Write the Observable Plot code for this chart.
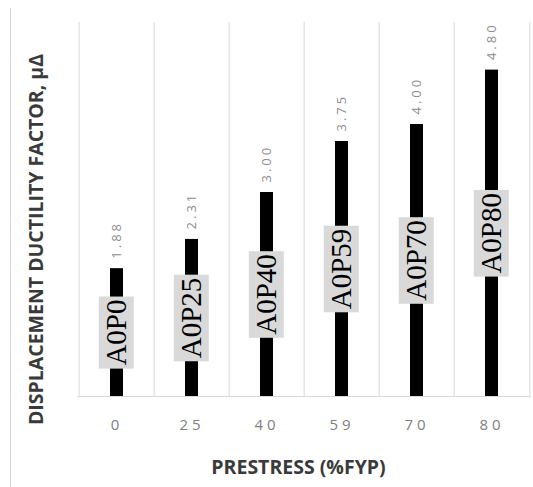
<!DOCTYPE html>
<html>
<head>
<meta charset="utf-8">
<script src="https://cdn.jsdelivr.net/npm/d3@7"></script>
<script src="https://cdn.jsdelivr.net/npm/@observablehq/plot@0.6"></script>
<style>
  body { margin: 0; background: #fff; }
  #chart { position: relative; width: 533px; height: 487px; }
  #chart::before { content: ""; position: absolute; left: 10px; top: 8px; bottom: 0; border-left: 1px solid #d9d9d9; }
  #chart svg { position: absolute; left: 0; top: 0; }
  #chart g[font-size="13"] text { letter-spacing: 3px; }
  #chart g[aria-label="x-axis tick label"] text { letter-spacing: 4px; }
</style>
</head>
<body>
<div id="chart"></div>
<script>
// Prestress levels (% of fpy) and the measured displacement ductility factor
const prestress = ["0", "25", "40", "59", "70", "80"];
const ductility = [1.88, 2.31, 3.00, 3.75, 4.00, 4.80];
const specimens = ["A0P0", "A0P25", "A0P40", "A0P59", "A0P70", "A0P80"];
const xTitle = "PRESTRESS (%FYP)";
const yTitle = "DISPLACEMENT DUCTILITY FACTOR, μΔ";
const yMax = 5.5;

const rows = prestress.map((p, i) => ({p, v: ductility[i], name: specimens[i]}));

const W = 533, H = 487, ML = 77, MR = 2;
const halfStep = (W - ML - MR) / prestress.length / 2; // half of one category band, in px

const chart = Plot.plot({
  width: W,
  height: H,
  marginLeft: ML,
  marginRight: MR,
  marginTop: 22,
  marginBottom: 91,
  style: {fontFamily: "'Open Sans', sans-serif", background: "transparent", overflow: "visible"},
  x: {domain: prestress, padding: 0},
  y: {domain: [0, yMax], axis: null},
  marks: [
    // vertical gridlines on the category boundaries
    Plot.ruleX(prestress, {x: d => d, y1: 0, y2: yMax, dx: -halfStep, stroke: "#d9d9d9"}),
    Plot.ruleX(prestress.slice(-1), {x: d => d, y1: 0, y2: yMax, dx: halfStep, stroke: "#d9d9d9"}),
    Plot.ruleY([0], {stroke: "#d9d9d9"}),
    Plot.barY(rows, {x: "p", y: "v", fill: "#000", insetLeft: 31, insetRight: 31}),
    Plot.text(rows, {
      x: "p", y: "v", text: d => d.v.toFixed(2),
      rotate: -90, textAnchor: "start", lineAnchor: "middle", dy: -10,
      fontSize: 13, fill: "#8c8c8c"
    }),
    Plot.text(rows, {
      x: "p", y: d => d.v / 2, text: "name",
      rotate: -90, textAnchor: "middle", lineAnchor: "middle",
      fontFamily: "Liberation Serif", fontSize: 29, fill: "#000"
    }),
    Plot.axisX({tickSize: 0, tickPadding: 23, fontSize: 15, fill: "#808080", label: null}),
    Plot.text([xTitle], {
      frameAnchor: "bottom", textAnchor: "middle", lineAnchor: "middle",
      dx: -6, dy: 71, fontWeight: 700, fontSize: 19.5, fill: "#3a3a3a"
    }),
    Plot.text([yTitle], {
      frameAnchor: "left", textAnchor: "middle", lineAnchor: "middle",
      dx: -41, dy: 30, rotate: -90, fontWeight: 700, fontSize: 19.5, fill: "#3a3a3a"
    })
  ]
});

document.getElementById("chart").appendChild(chart);

// grey label boxes behind the specimen names
chart.querySelectorAll('g[font-family="Liberation Serif"] text').forEach(t => {
  const b = t.getBBox();
  const r = document.createElementNS("http://www.w3.org/2000/svg", "rect");
  r.setAttribute("x", b.x - 3);
  r.setAttribute("y", b.y - 1.5);
  r.setAttribute("width", b.width + 6);
  r.setAttribute("height", b.height + 3);
  r.setAttribute("fill", "#d9d9d9");
  r.setAttribute("stroke", "none");
  const tr = t.getAttribute("transform");
  if (tr) r.setAttribute("transform", tr);
  t.parentNode.insertBefore(r, t);
});
</script>
</body>
</html>
